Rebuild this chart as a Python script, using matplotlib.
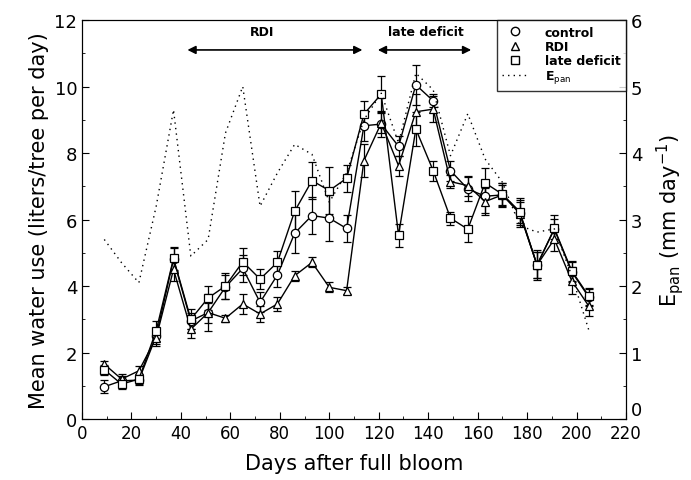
import matplotlib
matplotlib.use("Agg")
import matplotlib.pyplot as plt
import matplotlib.lines as mlines
from matplotlib.ticker import MultipleLocator

days = [9, 16, 23, 30, 37, 44, 51, 58, 65, 72, 79, 86, 93, 100, 107, 114, 121,
        128, 135, 142, 149, 156, 163, 170, 177, 184, 191, 198, 205]
control = [0.97, 1.15, 1.17, 2.5, 4.8, 2.95, 3.2, 3.97, 4.53, 3.51, 4.33, 5.59, 6.12, 6.04,
           5.73, 8.82, 8.87, 8.2, 10.05, 9.57, 7.47, 6.92, 6.7, 6.74, 6.21, 4.63, 5.71, 4.43, 3.66]
rdi = [1.65, 1.2, 1.45, 2.45, 4.5, 2.7, 3.2, 3.03, 3.46, 3.16, 3.46, 4.31, 4.71, 3.96,
       3.86, 7.77, 8.9, 7.62, 9.24, 9.32, 7.14, 7.02, 6.54, 6.74, 6.18, 4.63, 5.41, 4.16, 3.39]
late = [1.48, 1.05, 1.2, 2.66, 4.83, 3.0, 3.64, 4.0, 4.73, 4.21, 4.71, 6.25, 7.17, 6.87,
        7.24, 9.17, 9.77, 5.53, 8.72, 7.47, 6.04, 5.71, 7.1, 6.76, 6.24, 4.63, 5.73, 4.46, 3.69]
control_err = [0.2, 0.15, 0.15, 0.25, 0.35, 0.25, 0.55, 0.35, 0.4, 0.3, 0.35, 0.6, 0.55, 0.7,
               0.4, 0.45, 0.4, 0.3, 0.6, 0.2, 0.3, 0.35, 0.5, 0.35, 0.45, 0.4, 0.3, 0.3, 0.25]
rdi_err = [0.1, 0.15, 0.15, 0.25, 0.35, 0.25, 0.3, 0.1, 0.3, 0.25, 0.2, 0.15, 0.15, 0.15,
           0.1, 0.5, 0.3, 0.3, 0.55, 0.4, 0.2, 0.3, 0.4, 0.3, 0.35, 0.4, 0.35, 0.4, 0.3]
late_err = [0.15, 0.15, 0.15, 0.3, 0.35, 0.3, 0.35, 0.4, 0.4, 0.3, 0.35, 0.6, 0.55, 0.7,
            0.4, 0.4, 0.55, 0.35, 0.5, 0.3, 0.2, 0.4, 0.45, 0.35, 0.35, 0.45, 0.4, 0.3, 0.25]
epan = [2.7, 2.35, 2.05, 3.2, 4.65, 2.45, 2.7, 4.3, 5.0, 3.2, 3.7, 4.13, 3.98, 3.26, 3.7,
        4.5, 4.9, 4.15, 5.2, 4.95, 3.96, 4.59, 3.91, 3.56, 2.91, 2.81, 2.86, 2.16, 1.33]

plt.rcParams['font.family'] = ['DejaVu Sans']
fig = plt.figure(figsize=(6.91, 4.81), dpi=100)
ax = fig.add_axes([0.1187, 0.1268, 0.7873, 0.8295])
ax2 = ax.twinx()

common = dict(color='black', lw=1.0, mfc='white', mec='black', ms=6, mew=0.9,
              ecolor='black', elinewidth=0.9, capsize=3, capthick=0.9)
ax.errorbar(days, control, yerr=control_err, marker='o', label='control', zorder=3, **common)
ax.errorbar(days, rdi, yerr=rdi_err, marker='^', label='RDI', zorder=3, **common)
ax.errorbar(days, late, yerr=late_err, marker='s', label='late deficit', zorder=3, **common)
ax2.plot(days, epan, color='black', ls=(0, (1, 3)), lw=1.0, label='E$_{\\rm pan}$')

ax.set_xlim(0, 220)
ax.set_ylim(0, 12)
ax2.set_ylim(0, 6)
ax.xaxis.set_major_locator(MultipleLocator(20))
ax.xaxis.set_minor_locator(MultipleLocator(10))
ax.yaxis.set_major_locator(MultipleLocator(2))
ax.yaxis.set_minor_locator(MultipleLocator(1))
ax2.set_yticks([0, 1, 2, 3, 4, 5, 6])
ax2.yaxis.set_minor_locator(MultipleLocator(0.5))
for a in (ax, ax2):
    a.tick_params(which='both', direction='in', labelsize=13)
    a.tick_params(which='major', length=5)
    a.tick_params(which='minor', length=2.5)
ax.tick_params(axis='x', labelsize=12)

ax.set_xlabel('Days after full bloom', fontsize=15, labelpad=8)
ax.set_ylabel('Mean water use (liters/tree per day)', fontsize=15)
ax2.set_ylabel('E$_{\\rm pan}$ (mm day$^{-1}$)', fontsize=15, labelpad=8)

# treatment period arrows
ax.annotate('', xy=(41.5, 11.1), xytext=(114.5, 11.1),
            arrowprops=dict(arrowstyle='<|-|>', color='black', lw=1.2, mutation_scale=12))
ax.text(73, 11.45, 'RDI', ha='center', va='bottom', fontsize=9, fontweight='bold')
ax.annotate('', xy=(118.5, 11.1), xytext=(158.5, 11.1),
            arrowprops=dict(arrowstyle='<|-|>', color='black', lw=1.2, mutation_scale=12))
ax.text(139, 11.45, 'late deficit', ha='center', va='bottom', fontsize=9, fontweight='bold')

h1, l1 = ax.get_legend_handles_labels()
h2, l2 = ax2.get_legend_handles_labels()
handles = [mlines.Line2D([], [], ls='none', marker=m, mfc='white', mec='black', ms=6)
           for m in ('o', '^', 's')] + h2
leg = ax2.legend(handles, l1 + l2, loc='upper right', borderaxespad=0, fancybox=False,
                 edgecolor='black', fontsize=9, handlelength=2.0, labelspacing=0.1,
                 borderpad=0.45, handletextpad=1.4)
leg.get_frame().set_linewidth(1.0)
for t in leg.get_texts():
    t.set_fontweight('bold')

fig.canvas.draw()
for lbl in ax2.get_yticklabels():
    if lbl.get_text() == '0':
        lbl.set_va('bottom')

fig.savefig('out.png', dpi=100)
